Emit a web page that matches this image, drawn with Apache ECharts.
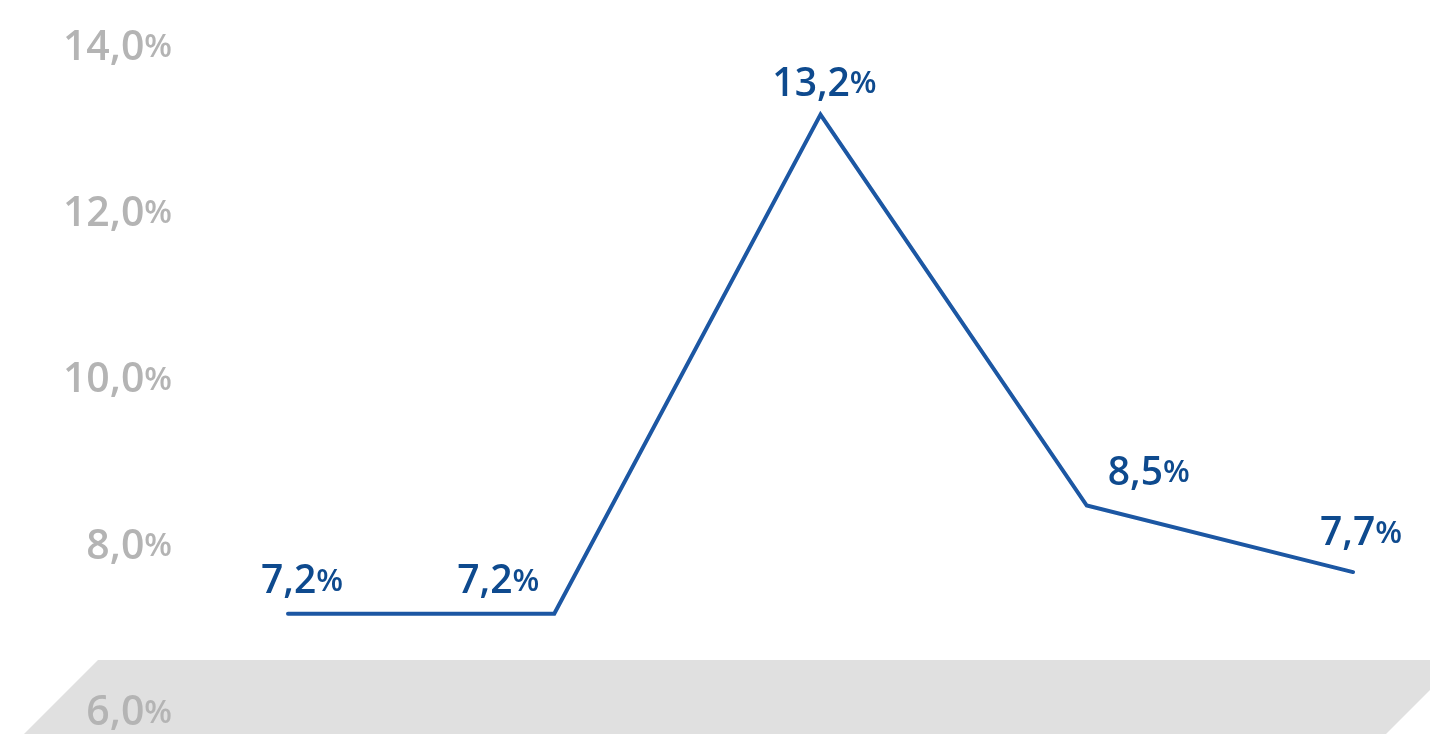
<!DOCTYPE html>
<html>
<head>
<meta charset="utf-8">
<script src="https://cdn.jsdelivr.net/npm/echarts@6/dist/echarts.min.js"></script>
<style>
html,body{margin:0;padding:0;background:#fff;}
#main{width:1430px;height:734px;}
</style>
</head>
<body>
<div id="main"></div>
<script>
// 数据
var categories = ['1', '2', '3', '4', '5'];
var rateValues = [7.2, 7.2, 13.2, 8.5, 7.7];
var yTicks = [6, 8, 10, 12, 14];
// 每个点标签的偏移（样式）
var labelOffsets = [[14, -2], [-56, -2], [4, 0], [62, -2], [8, -8]];

var myChart = echarts.init(document.getElementById('main'));

function fmt(v) {
    return v.toFixed(1).replace('.', ',');
}

var pointData = [];
for (var i = 0; i < rateValues.length; i++) {
    pointData.push({
        value: rateValues[i],
        label: {offset: labelOffsets[i]}
    });
}

option = {
    animation: false,
    grid: {
        left: 288,
        right: 77,
        top: 48,
        bottom: 17
    },
    graphic: [{
        type: 'polygon',
        z: -10,
        silent: true,
        shape: {points: [[98, 660], [1460, 660], [1384, 736], [22, 736]]},
        style: {fill: '#e0e0e0'}
    }],
    xAxis: {
        type: 'category',
        data: categories,
        boundaryGap: false,
        axisLine: {show: false},
        axisTick: {show: false},
        axisLabel: {show: false},
        splitLine: {show: false}
    },
    yAxis: {
        type: 'value',
        min: yTicks[0],
        max: yTicks[yTicks.length - 1],
        interval: 2,
        axisLine: {show: false},
        axisTick: {show: false},
        splitLine: {show: false},
        axisLabel: {
            margin: 116,
            formatter: function (v) {
                return '{n|' + fmt(v) + '}{p|%}';
            },
            rich: {
                n: {fontFamily: 'Open Sans', fontWeight: 600, fontSize: 41, color: '#b4b4b4'},
                p: {fontFamily: 'Open Sans', fontWeight: 600, fontSize: 32, color: '#b4b4b4'}
            }
        }
    },
    series: [{
        type: 'line',
        data: pointData,
        symbol: 'circle',
        symbolSize: 1,
        itemStyle: {color: 'rgba(0,0,0,0)'},
        lineStyle: {color: '#1c57a3', width: 4, cap: 'round', join: 'miter'},
        label: {
            show: true,
            position: 'top',
            distance: 10,
            formatter: function (p) {
                return '{n|' + fmt(p.value) + '}{p|%}';
            },
            rich: {
                n: {fontFamily: 'Open Sans', fontWeight: 600, fontSize: 39, color: '#0e4a8e'},
                p: {fontFamily: 'Open Sans', fontWeight: 600, fontSize: 31, color: '#0e4a8e'}
            }
        }
    }]
};

myChart.setOption(option, true);
</script>
</body>
</html>
